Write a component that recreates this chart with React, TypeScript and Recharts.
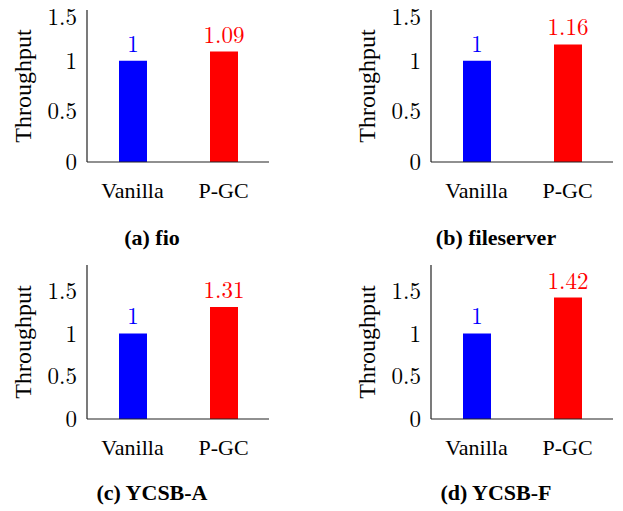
import { BarChart, Bar, XAxis, YAxis, Cell, LabelList, Label } from "recharts";

const CATEGORIES = ["Vanilla", "P-GC"];
const FIO = [1, 1.09];
const FILESERVER = [1, 1.16];
const YCSB_A = [1, 1.31];
const YCSB_F = [1, 1.42];
const TITLES = ["(a) fio", "(b) fileserver", "(c) YCSB-A", "(d) YCSB-F"];
const Y_MAX = [1.5, 1.5, 1.8, 1.8];
const Y_TICKS = [0, 0.5, 1, 1.5];

const COLORS = ["#0000ff", "#ff0000"];
const TEXT_FONT = "Liberation Serif";
const NUM_FONT = "Latin Modern Roman";
const FRAME = "#222";

const xTick = { fill: "#000", fontSize: 22, fontFamily: TEXT_FONT, style: { fontFamily: TEXT_FONT } };
const yTick = { fill: "#000", fontSize: 23, fontFamily: NUM_FONT, style: { fontFamily: NUM_FONT } };

function ValueLabel(props: any) {
  const { x, y, width, value, index } = props;
  return (
    <text
      x={x + width / 2}
      y={y - 9}
      textAnchor="middle"
      fill={COLORS[index % COLORS.length]}
      fontSize={23}
      fontFamily={NUM_FONT}
      style={{ fontFamily: NUM_FONT }}
    >
      {value}
    </text>
  );
}

function YTitle(props: any) {
  const { viewBox } = props;
  const cx = viewBox.x + 4;
  const cy = viewBox.y + viewBox.height / 2;
  return (
    <text
      x={cx}
      y={cy}
      transform={`rotate(-90 ${cx} ${cy})`}
      textAnchor="middle"
      fill="#000"
      fontSize={24}
      fontFamily={TEXT_FONT}
      style={{ fontFamily: TEXT_FONT }}
    >
      Throughput
    </text>
  );
}

interface PanelProps {
  values: number[];
  title: string;
  yMax: number;
  left: number;
  top: number;
  bottomMargin: number;
}

function Panel({ values, title, yMax, left, top, bottomMargin }: PanelProps) {
  const data = CATEGORIES.map((name, i) => ({ name, value: values[i] }));
  const titleCenter = left + 152;
  const titleBaseline = top + 245;

  return (
    <>
      <div style={{ position: "absolute", left, top }}>
        <BarChart
          width={300}
          height={250}
          data={data}
          margin={{ top: 10, right: 31, bottom: bottomMargin, left: 27 }}
        >
          <XAxis
            dataKey="name"
            height={30}
            tickSize={0}
            tickMargin={20}
            tickLine={false}
            axisLine={{ stroke: FRAME, strokeWidth: 1.2 }}
            tick={xTick}
          />
          <XAxis
            xAxisId="top"
            orientation="top"
            dataKey="name"
            height={0}
            tick={false}
            tickLine={false}
            axisLine={{ stroke: FRAME, strokeWidth: 1.2 }}
          />
          <YAxis
            width={60}
            domain={[0, yMax]}
            ticks={Y_TICKS}
            tickSize={0}
            tickMargin={10}
            tickLine={false}
            axisLine={{ stroke: FRAME, strokeWidth: 1.2 }}
            tick={yTick}
            allowDataOverflow
          >
            <Label content={<YTitle />} />
          </YAxis>
          <YAxis
            yAxisId="right"
            orientation="right"
            width={0}
            domain={[0, yMax]}
            tick={false}
            tickLine={false}
            axisLine={{ stroke: FRAME, strokeWidth: 1.2 }}
          />
          <Bar dataKey="value" barSize={28} isAnimationActive={false}>
            {data.map((d, i) => (
              <Cell key={d.name} fill={COLORS[i % COLORS.length]} />
            ))}
            <LabelList dataKey="value" content={<ValueLabel />} />
          </Bar>
        </BarChart>
      </div>
      <div
        style={{
          position: "absolute",
          left: titleCenter - 120,
          width: 240,
          top: titleBaseline - 18.4,
          textAlign: "center",
          fontFamily: TEXT_FONT,
          fontWeight: "bold",
          fontSize: 22,
          lineHeight: "22px",
          color: "#000",
        }}
      >
        {title}
      </div>
    </>
  );
}

export default function App() {
  return (
    <div
      style={{
        position: "absolute",
        left: 0,
        top: 0,
        width: 623,
        height: 511,
        background: "#fff",
        overflow: "hidden",
      }}
    >
      <Panel values={FIO} title={TITLES[0]} yMax={Y_MAX[0]} left={0} top={0} bottomMargin={58} />
      <Panel values={FILESERVER} title={TITLES[1]} yMax={Y_MAX[1]} left={344} top={0} bottomMargin={58} />
      <Panel values={YCSB_A} title={TITLES[2]} yMax={Y_MAX[2]} left={0} top={255} bottomMargin={56} />
      <Panel values={YCSB_F} title={TITLES[3]} yMax={Y_MAX[3]} left={344} top={255} bottomMargin={56} />
    </div>
  );
}
